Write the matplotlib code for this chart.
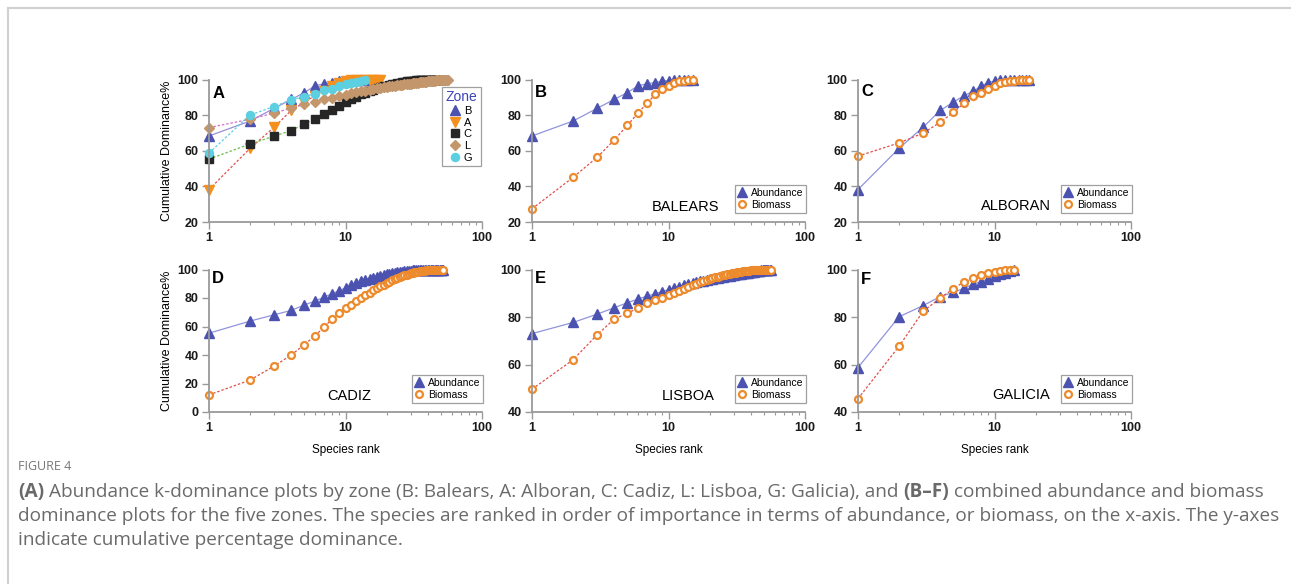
import numpy as np
import matplotlib.pyplot as plt
from matplotlib.ticker import LogLocator, NullFormatter

plt.rcParams['font.family'] = ['Liberation Sans', 'DejaVu Sans']

# cumulative dominance (%) by species rank
bal_abund = [68.3, 76.7, 83.8, 88.8, 92.7, 96.5, 97.6, 98.3, 99.1, 99.4,
             99.6, 99.8, 99.9, 100.0, 100.0]
bal_biom = [27.4, 45.1, 56.3, 66.0, 74.3, 81.3, 86.9, 91.6, 94.8, 96.3,
            97.8, 98.9, 99.3, 99.6, 100.0]

alb_abund = [38.2, 61.4, 73.2, 82.6, 87.3, 91.0, 93.4, 96.3, 98.3, 99.1,
             99.6, 99.8, 99.9, 99.95, 100.0, 100.0, 100.0, 100.0]
alb_biom = [57.0, 64.4, 69.9, 76.0, 81.6, 86.7, 90.6, 92.7, 94.8, 96.6,
            97.8, 98.5, 98.9, 99.3, 99.6, 99.8, 99.9, 100.0]

cad_abund = [55.3, 63.8, 68.2, 71.3, 75.1, 77.9, 80.7, 83.1, 85.2, 87.1,
             88.9, 90.4, 91.6, 92.6, 93.5, 94.3, 95.0, 95.6, 96.1, 96.6,
             97.0, 97.4, 97.7, 98.0, 98.3, 98.5, 98.7, 98.9, 99.1, 99.2,
             99.3, 99.4, 99.5, 99.6, 99.65, 99.7, 99.75, 99.8, 99.82, 99.85,
             99.87, 99.89, 99.9, 99.92, 99.94, 99.95, 99.96, 99.97, 99.98, 99.99,
             99.995, 100.0]
cad_biom = [12.0, 22.4, 32.2, 40.0, 47.3, 53.6, 59.8, 65.4, 69.6, 72.7,
            75.3, 77.9, 80.0, 82.0, 83.7, 85.3, 86.8, 88.1, 89.3, 90.4,
            91.4, 92.3, 93.1, 93.9, 94.6, 95.2, 95.8, 96.3, 96.8, 97.2,
            97.6, 97.9, 98.2, 98.5, 98.7, 98.9, 99.1, 99.25, 99.4, 99.5,
            99.6, 99.68, 99.75, 99.8, 99.85, 99.88, 99.91, 99.94, 99.96, 99.98,
            99.99, 100.0]

lis_abund = [73.0, 77.7, 81.2, 83.9, 86.0, 87.6, 88.8, 89.8, 90.7, 91.5,
             92.2, 92.8, 93.3, 93.8, 94.2, 94.6, 95.0, 95.3, 95.6, 95.9,
             96.1, 96.3, 96.5, 96.7, 96.9, 97.1, 97.3, 97.45, 97.6, 97.75,
             97.9, 98.0, 98.15, 98.3, 98.4, 98.5, 98.6, 98.7, 98.8, 98.9,
             99.0, 99.1, 99.2, 99.3, 99.38, 99.45, 99.52, 99.6, 99.66, 99.72,
             99.78, 99.83, 99.88, 99.92, 99.96, 100.0]
lis_biom = [49.6, 62.0, 72.5, 79.1, 81.6, 83.8, 85.7, 87.0, 88.1, 89.1,
            90.1, 91.0, 91.8, 92.6, 93.3, 94.0, 94.6, 95.1, 95.6, 96.0,
            96.4, 96.7, 97.0, 97.3, 97.55, 97.8, 98.0, 98.2, 98.4, 98.55,
            98.7, 98.85, 99.0, 99.1, 99.2, 99.3, 99.4, 99.48, 99.55, 99.62,
            99.68, 99.73, 99.78, 99.82, 99.86, 99.89, 99.92, 99.94, 99.96, 99.97,
            99.98, 99.99, 99.995, 100.0, 100.0, 100.0]

gal_abund = [58.7, 80.1, 84.8, 88.6, 90.4, 92.1, 93.9, 94.9, 96.1, 97.2,
             98.0, 98.6, 99.4, 100.0]
gal_biom = [45.6, 67.7, 82.4, 87.9, 92.0, 94.8, 96.3, 97.7, 98.5, 99.0,
            99.4, 99.9, 100.0, 100.0]

zones = ['B', 'A', 'C', 'L', 'G']
zone_abund = [bal_abund, alb_abund, cad_abund, lis_abund, gal_abund]
sites = ['BALEARS', 'ALBORAN', 'CADIZ', 'LISBOA', 'GALICIA']
site_abund = [bal_abund, alb_abund, cad_abund, lis_abund, gal_abund]
site_biom = [bal_biom, alb_biom, cad_biom, lis_biom, gal_biom]
site_ylim = [(20, 100), (20, 100), (0, 100), (40, 100), (40, 100)]

W, H = 1291, 584
fig = plt.figure(figsize=(W / 100, H / 100), dpi=100)

AXC = '#9a9a9a'


def make_ax(x0, top, w=273, h=142.5):
    ax = fig.add_axes([x0 / W, 1 - (top + h) / H, w / W, h / H])
    ax.set_xscale('log')
    ax.set_xlim(1, 100)
    for s in ['top', 'right']:
        ax.spines[s].set_visible(False)
    for s in ['left', 'bottom']:
        ax.spines[s].set_color(AXC)
        ax.spines[s].set_linewidth(1.3)
    ax.set_xticks([1, 10, 100])
    ax.set_xticklabels(['1', '10', '100'])
    ax.xaxis.set_minor_locator(LogLocator(base=10, subs=np.arange(2, 10)))
    ax.xaxis.set_minor_formatter(NullFormatter())
    ax.tick_params(which='major', length=5, width=1, color=AXC, direction='out',
                   labelsize=9, pad=2.5)
    ax.tick_params(which='minor', length=2.5, width=0.8, color=AXC, direction='out')
    return ax


def bold_ticks(ax):
    for lab in ax.get_xticklabels() + ax.get_yticklabels():
        lab.set_fontweight('bold')
        lab.set_color('#1a1a1a')


lefts = [209, 532, 858]
tops = [79.5, 269.5]

# panel A: abundance k-dominance by zone
zone_style = [
    dict(marker='^', mc='#4b52b0', lc='#9a8fd8', ls='-', ms=6.5),
    dict(marker='v', mc='#f4901e', lc='#e0504a', ls=(0, (2, 1.5)), ms=6.5),
    dict(marker='s', mc='#262626', lc='#6cbf48', ls=(0, (2, 1.5)), ms=5.2),
    dict(marker='D', mc='#c4966c', lc='#d070c8', ls=(0, (2, 1.5)), ms=5.2),
    dict(marker='o', mc='#5ccfe0', lc='#5ccfe0', ls=(0, (2, 1.5)), ms=5.8),
]
axA = make_ax(lefts[0], tops[0])
axA.set_ylim(20, 100)
axA.set_yticks(np.arange(20, 101, 20))
for z, vals, st in zip(zones, zone_abund, zone_style):
    r = np.arange(1, len(vals) + 1)
    axA.plot(r, vals, color=st['lc'], ls=st['ls'], lw=0.9, clip_on=False)
    axA.plot(r, vals, ls='none', marker=st['marker'], ms=st['ms'], mfc=st['mc'],
             mec=st['mc'], label=z, clip_on=False)
leg = axA.legend(loc='upper right', bbox_to_anchor=(0.995, 0.948), title='Zone',
                 fontsize=8, title_fontsize=10, frameon=True, fancybox=False,
                 edgecolor='#888888', handlelength=0.8, handletextpad=0.4,
                 borderpad=0.3, labelspacing=0.15, borderaxespad=0)
leg.get_title().set_color('#3c44b8')
leg.get_frame().set_linewidth(0.9)
axA.text(0.012, 0.955, 'A', transform=axA.transAxes, fontsize=12, fontweight='bold',
         va='top', ha='left')
axA.set_ylabel('Cumulative Dominance%', fontsize=9, labelpad=3)
bold_ticks(axA)

# panels B-F: abundance vs biomass per zone
slots = [(1, 0), (2, 0), (0, 1), (1, 1), (2, 1)]
letters = ['B', 'C', 'D', 'E', 'F']
site_pos = [(0.564, 0.105), (0.579, 0.109), (0.515, 0.113), (0.572, 0.115), (0.599, 0.116)]
letter_y = [0.96, 0.965, 0.99, 0.99, 0.985]
for i in range(5):
    c, rw = slots[i]
    ax = make_ax(lefts[c], tops[rw])
    lo, hi = site_ylim[i]
    ax.set_ylim(lo, hi)
    ax.set_yticks(np.arange(lo, hi + 1, 20))
    a = site_abund[i]
    b = site_biom[i]
    ra = np.arange(1, len(a) + 1)
    rb = np.arange(1, len(b) + 1)
    ax.plot(ra, a, color='#9094dc', lw=0.9, clip_on=False)
    ax.plot(rb, b, color='#e0504a', lw=0.9, ls=(0, (2, 1.5)), clip_on=False)
    ax.plot(ra, a, ls='none', marker='^', ms=6.5, mfc='#4b52b0', mec='#4b52b0',
            label='Abundance', clip_on=False)
    ax.plot(rb, b, ls='none', marker='o', ms=5, mfc='white', mec='#ec8a2c',
            mew=1.6, label='Biomass', clip_on=False)
    lg = ax.legend(loc='lower right', bbox_to_anchor=(1.005, 0.065), fontsize=7.5,
                   frameon=True, fancybox=False, edgecolor='#888888',
                   handlelength=0.8, handletextpad=0.5, borderpad=0.25,
                   labelspacing=0.2, borderaxespad=0)
    lg.get_frame().set_linewidth(0.9)
    ax.text(site_pos[i][0], site_pos[i][1], sites[i], transform=ax.transAxes,
            fontsize=10.5, ha='center', va='center')
    ax.text(0.012, letter_y[i], letters[i], transform=ax.transAxes, fontsize=12,
            fontweight='bold', va='top', ha='left')
    if c == 0:
        ax.set_ylabel('Cumulative Dominance%', fontsize=9, labelpad=3)
    if rw == 1:
        ax.set_xlabel('Species rank', fontsize=8.5, labelpad=7)
    bold_ticks(ax)

# page frame lines
fig.add_artist(plt.Line2D([7.5 / W, 1], [1 - 8 / H, 1 - 8 / H], color='#d0d0d0', lw=1.5))
fig.add_artist(plt.Line2D([7.5 / W, 7.5 / W], [0, 1 - 8 / H], color='#d0d0d0', lw=1.5))

# caption, written in runs so the bold parts sit inline
cap_font = ['Open Sans', 'DejaVu Sans']
cap_col = '#6a6a6a'
fig.text(18 / W, 1 - 467 / H, 'FIGURE 4', fontsize=9, color='#777777',
         family=cap_font, va='center')

renderer = fig.canvas.get_renderer()


def text_w(s, **kw):
    t = fig.text(0, 0, s, **kw)
    w = t.get_window_extent(renderer=renderer).width
    t.remove()
    return w


cap_kw = dict(fontsize=13.7, family=cap_font, color=cap_col, va='center')
space_w = text_w('a a', **cap_kw) - text_w('aa', **cap_kw)

lines = [
    [('(A)', 'bold'),
     (' Abundance k-dominance plots by zone (B: Balears, A: Alboran, C: Cadiz, L: Lisboa, G: Galicia), and ', 'normal'),
     ('(B\u2013F)', 'bold'), (' combined abundance and biomass', 'normal')],
    [('dominance plots for the five zones. The species are ranked in order of importance in terms of abundance, or biomass, on the x-axis. The y-axes', 'normal')],
    [('indicate cumulative percentage dominance.', 'normal')],
]
line_y = [492, 516, 540]
for parts, ly in zip(lines, line_y):
    x = 18.0
    for s, wt in parts:
        lead = len(s) - len(s.lstrip(' '))
        trail = len(s) - len(s.rstrip(' '))
        x += lead * space_w
        core = s.strip(' ')
        t = fig.text(x / W, 1 - ly / H, core, fontweight=wt, **cap_kw)
        x += t.get_window_extent(renderer=renderer).width + trail * space_w

fig.savefig('out.png', dpi=100)
